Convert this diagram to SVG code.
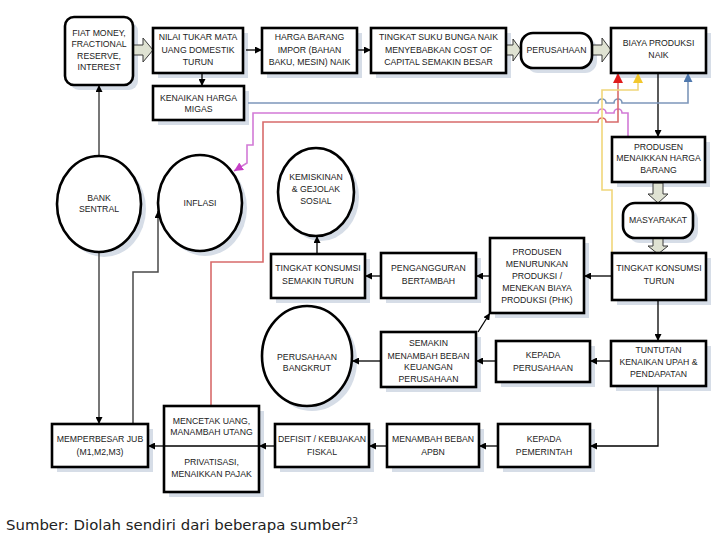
<svg xmlns="http://www.w3.org/2000/svg" width="720" height="540" viewBox="0 0 720 540">
<style>
.bg{fill:#fff}
.sh{fill:#d6dde7}
.box{fill:#fff;stroke:#000;stroke-width:2.6}
.t{font-family:"Liberation Sans",Arial,sans-serif;font-size:8.7px;fill:#222;text-anchor:middle}
.fat{fill:#dfe2d2;stroke:#3a3a3a;stroke-width:1}
.k{fill:none;stroke:#000;stroke-width:1.3}
.g{fill:none;stroke:#4a4a4a;stroke-width:1.5}
.bl{fill:none;stroke:#7d97ba;stroke-width:1.6}
.mg{fill:none;stroke:#d27ad6;stroke-width:1.6}
.rd{fill:none;stroke:#d86b6b;stroke-width:1.6}
.yl{fill:none;stroke:#f0d67a;stroke-width:1.6}
.cap{font-family:"DejaVu Sans",Verdana,sans-serif;font-size:14.9px;fill:#222}
</style>
<defs>
<marker id="ak" viewBox="0 0 10 10" refX="10" refY="5" markerWidth="7" markerHeight="7" markerUnits="userSpaceOnUse" orient="auto"><path d="M0,0 L10,5 L0,10 z" fill="#000"/></marker>
<marker id="abl" viewBox="0 0 10 10" refX="10" refY="5" markerWidth="9" markerHeight="9" markerUnits="userSpaceOnUse" orient="auto"><path d="M0,0 L10,5 L0,10 z" fill="#4f78ad"/></marker>
<marker id="amg" viewBox="0 0 10 10" refX="10" refY="5" markerWidth="9" markerHeight="9" markerUnits="userSpaceOnUse" orient="auto"><path d="M0,0 L10,5 L0,10 z" fill="#c63fc6"/></marker>
<marker id="ard" viewBox="0 0 10 10" refX="10" refY="5" markerWidth="10" markerHeight="10" markerUnits="userSpaceOnUse" orient="auto"><path d="M0,0 L10,5 L0,10 z" fill="#e01b1b"/></marker>
<marker id="ayl" viewBox="0 0 10 10" refX="10" refY="5" markerWidth="10" markerHeight="10" markerUnits="userSpaceOnUse" orient="auto"><path d="M0,0 L10,5 L0,10 z" fill="#f2c72c"/></marker>
</defs>
<rect class="bg" x="0" y="0" width="720" height="540"/>

<g id="shadows">
<rect class="sh" x="70" y="22" width="68" height="68" rx="9"/>
<rect class="sh" x="158" y="33" width="90" height="45"/>
<rect class="sh" x="267" y="33" width="95" height="45"/>
<rect class="sh" x="376" y="33" width="135" height="45"/>
<rect class="sh" x="526" y="38" width="71" height="35" rx="12"/>
<rect class="sh" x="616" y="33" width="95" height="45"/>
<rect class="sh" x="158" y="91" width="91" height="34"/>
<ellipse class="sh" cx="104" cy="209" rx="42" ry="48"/>
<ellipse class="sh" cx="205" cy="208" rx="42" ry="48"/>
<ellipse class="sh" cx="321" cy="197" rx="38" ry="44"/>
<rect class="sh" x="617" y="142" width="93" height="45"/>
<rect class="sh" x="628" y="208" width="70" height="35" rx="12"/>
<rect class="sh" x="617" y="258" width="94" height="47"/>
<rect class="sh" x="495" y="243" width="94" height="75"/>
<rect class="sh" x="386" y="258" width="95" height="45"/>
<rect class="sh" x="276" y="259" width="94" height="44"/>
<ellipse class="sh" cx="312" cy="361" rx="45" ry="50"/>
<rect class="sh" x="386" y="337" width="95" height="55"/>
<rect class="sh" x="501" y="346" width="94" height="41"/>
<rect class="sh" x="616" y="346" width="95" height="45"/>
<rect class="sh" x="57" y="429" width="96" height="43"/>
<rect class="sh" x="169" y="411" width="95" height="86"/>
<rect class="sh" x="280" y="429" width="94" height="43"/>
<rect class="sh" x="392" y="429" width="92" height="43"/>
<rect class="sh" x="503" y="429" width="92" height="43"/>
</g>

<g id="connectors">
<polygon class="fat" points="133,45 143,45 143,38 153,50 143,62 143,55 133,55"/>
<polygon class="fat" points="506,45 513,45 513,39 521,50 513,61 513,55 506,55"/>
<polygon class="fat" points="592,45 602,45 602,38 611,50 602,62 602,55 592,55"/>
<polygon class="fat" points="653,183 663,183 663,194 668,194 658,203 648,194 653,194"/>
<polygon class="fat" points="653,238 663,238 663,246 668,246 658,254 648,246 653,246"/>
<path class="k" d="M246,50 H262" marker-end="url(#ak)"/>
<path class="k" d="M357,50 H371" marker-end="url(#ak)"/>
<path class="k" d="M202,73 V86" marker-end="url(#ak)"/>
<path class="k" d="M658,73 V137" marker-end="url(#ak)"/>
<path class="k" d="M612,276 H584" marker-end="url(#ak)"/>
<path class="k" d="M490,276 H476" marker-end="url(#ak)"/>
<path class="k" d="M381,276 H365" marker-end="url(#ak)"/>
<path class="k" d="M317,254 V236" marker-end="url(#ak)"/>
<path class="k" d="M658,300 V341" marker-end="url(#ak)"/>
<path class="k" d="M611,361 H590" marker-end="url(#ak)"/>
<path class="k" d="M496,361 H476" marker-end="url(#ak)"/>
<path class="k" d="M381,361 H352" marker-end="url(#ak)"/>
<path class="k" d="M478,332 L490,313" marker-end="url(#ak)"/>
<path class="k" d="M658,386 V446 H590" marker-end="url(#ak)"/>
<path class="k" d="M498,446 H479" marker-end="url(#ak)"/>
<path class="k" d="M387,446 H369" marker-end="url(#ak)"/>
<path class="k" d="M275,446 H259" marker-end="url(#ak)"/>
<path class="k" d="M164,446 H148" marker-end="url(#ak)"/>
<path class="g" d="M99,156 V85" marker-end="url(#ak)"/>
<path class="g" d="M99,252 V424" marker-end="url(#ak)"/>
<path class="g" d="M133,424 V272 H158 V211" marker-end="url(#ak)"/>
<path class="bl" d="M248,103 H598 a4,4 0 0 1 8,0 H614 a4,4 0 0 1 8,0 H688 V73" marker-end="url(#abl)"/>
<path class="mg" d="M628,137 V113 H622 a4,4 0 0 0 -8,0 H606 a4,4 0 0 0 -8,0 H253 V145 H247 V163 L234,171" marker-end="url(#amg)"/>
<path class="rd" d="M211,406 V262 H263 V122 H598 a4,4 0 0 1 8,0 H618 V73" marker-end="url(#ard)"/>
<path class="yl" d="M612,254 V190 H602 V90 H638 V73" marker-end="url(#ayl)"/>
</g>

<g id="n-fiat"><rect class="box" x="65" y="17" width="68" height="68" rx="9"/>
<text class="t"><tspan x="99" y="36">FIAT MONEY,</tspan><tspan x="99" y="47">FRACTIONAL</tspan><tspan x="99" y="59">RESERVE,</tspan><tspan x="99" y="70">INTEREST</tspan></text></g>

<g id="n-nilai"><rect class="box" x="153" y="28" width="90" height="45"/>
<text class="t"><tspan x="198" y="40">NILAI TUKAR MATA</tspan><tspan x="198" y="53">UANG DOMESTIK</tspan><tspan x="198" y="65">TURUN</tspan></text></g>

<g id="n-harga"><rect class="box" x="262" y="28" width="95" height="45"/>
<text class="t"><tspan x="309.5" y="40">HARGA BARANG</tspan><tspan x="309.5" y="53">IMPOR (BAHAN</tspan><tspan x="309.5" y="65">BAKU, MESIN) NAIK</tspan></text></g>

<g id="n-suku"><rect class="box" x="371" y="28" width="135" height="45"/>
<text class="t"><tspan x="438.5" y="40">TINGKAT SUKU BUNGA NAIK</tspan><tspan x="438.5" y="53">MENYEBABKAN COST OF</tspan><tspan x="438.5" y="65">CAPITAL SEMAKIN BESAR</tspan></text></g>

<g id="n-perusahaan"><rect class="box" x="521" y="33" width="71" height="35" rx="12"/>
<text class="t"><tspan x="556.5" y="53">PERUSAHAAN</tspan></text></g>

<g id="n-biaya"><rect class="box" x="611" y="28" width="95" height="45"/>
<text class="t"><tspan x="658.5" y="46">BIAYA PRODUKSI</tspan><tspan x="658.5" y="58">NAIK</tspan></text></g>

<g id="n-migas"><rect class="box" x="153" y="86" width="91" height="34"/>
<text class="t"><tspan x="198.5" y="101">KENAIKAN HARGA</tspan><tspan x="198.5" y="112">MIGAS</tspan></text></g>

<g id="n-bank"><ellipse class="box" cx="99" cy="204" rx="42" ry="48"/>
<text class="t"><tspan x="99" y="201">BANK</tspan><tspan x="99" y="212">SENTRAL</tspan></text></g>

<g id="n-inflasi"><ellipse class="box" cx="200" cy="203" rx="42" ry="48"/>
<text class="t"><tspan x="200" y="206">INFLASI</tspan></text></g>

<g id="n-kemiskinan"><ellipse class="box" cx="316" cy="192" rx="38" ry="44"/>
<text class="t"><tspan x="316" y="180">KEMISKINAN</tspan><tspan x="316" y="192">&amp; GEJOLAK</tspan><tspan x="316" y="204">SOSIAL</tspan></text></g>

<g id="n-produsen-naik"><rect class="box" x="612" y="137" width="93" height="45"/>
<text class="t"><tspan x="658.5" y="150">PRODUSEN</tspan><tspan x="658.5" y="161">MENAIKKAN HARGA</tspan><tspan x="658.5" y="173">BARANG</tspan></text></g>

<g id="n-masyarakat"><rect class="box" x="623" y="203" width="70" height="35" rx="12"/>
<text class="t"><tspan x="658" y="223">MASYARAKAT</tspan></text></g>

<g id="n-konsumsi"><rect class="box" x="612" y="253" width="94" height="47"/>
<text class="t"><tspan x="659" y="271">TINGKAT KONSUMSI</tspan><tspan x="659" y="284">TURUN</tspan></text></g>

<g id="n-produsen-turun"><rect class="box" x="490" y="238" width="94" height="75"/>
<text class="t"><tspan x="537" y="255">PRODUSEN</tspan><tspan x="537" y="267">MENURUNKAN</tspan><tspan x="537" y="279">PRODUKSI /</tspan><tspan x="537" y="291">MENEKAN BIAYA</tspan><tspan x="537" y="303">PRODUKSI (PHK)</tspan></text></g>

<g id="n-pengangguran"><rect class="box" x="381" y="253" width="95" height="45"/>
<text class="t"><tspan x="428.5" y="271">PENGANGGURAN</tspan><tspan x="428.5" y="284">BERTAMBAH</tspan></text></g>

<g id="n-konsumsi-semakin"><rect class="box" x="271" y="254" width="94" height="44"/>
<text class="t"><tspan x="318" y="271">TINGKAT KONSUMSI</tspan><tspan x="318" y="284">SEMAKIN TURUN</tspan></text></g>

<g id="n-bangkrut"><ellipse class="box" cx="307" cy="356" rx="45" ry="50"/>
<text class="t"><tspan x="307" y="360">PERUSAHAAN</tspan><tspan x="307" y="371">BANGKRUT</tspan></text></g>

<g id="n-beban-keuangan"><rect class="box" x="381" y="332" width="95" height="55"/>
<text class="t"><tspan x="428.5" y="346">SEMAKIN</tspan><tspan x="428.5" y="359">MENAMBAH BEBAN</tspan><tspan x="428.5" y="370">KEUANGAN</tspan><tspan x="428.5" y="382">PERUSAHAAN</tspan></text></g>

<g id="n-kepada-perusahaan"><rect class="box" x="496" y="341" width="94" height="41"/>
<text class="t"><tspan x="543" y="358">KEPADA</tspan><tspan x="543" y="371">PERUSAHAAN</tspan></text></g>

<g id="n-tuntutan"><rect class="box" x="611" y="341" width="95" height="45"/>
<text class="t"><tspan x="658.5" y="353">TUNTUTAN</tspan><tspan x="658.5" y="365">KENAIKAN UPAH &amp;</tspan><tspan x="658.5" y="377">PENDAPATAN</tspan></text></g>

<g id="n-pemerintah"><rect class="box" x="498" y="424" width="92" height="43"/>
<text class="t"><tspan x="544" y="442">KEPADA</tspan><tspan x="544" y="455">PEMERINTAH</tspan></text></g>

<g id="n-apbn"><rect class="box" x="387" y="424" width="92" height="43"/>
<text class="t"><tspan x="433" y="442">MENAMBAH BEBAN</tspan><tspan x="433" y="455">APBN</tspan></text></g>

<g id="n-defisit"><rect class="box" x="275" y="424" width="94" height="43"/>
<text class="t"><tspan x="322" y="442">DEFISIT / KEBIJAKAN</tspan><tspan x="322" y="455">FISKAL</tspan></text></g>

<g id="n-mencetak"><rect class="box" x="164" y="406" width="95" height="86"/>
<path d="M164,446 H259" stroke="#000" stroke-width="1.3"/>
<text class="t"><tspan x="211.5" y="424">MENCETAK UANG,</tspan><tspan x="211.5" y="435">MANAMBAH UTANG</tspan><tspan x="211.5" y="465">PRIVATISASI,</tspan><tspan x="211.5" y="477">MENAIKKAN PAJAK</tspan></text></g>

<g id="n-jub"><rect class="box" x="52" y="424" width="96" height="43"/>
<text class="t"><tspan x="100" y="442">MEMPERBESAR JUB</tspan><tspan x="100" y="455">(M1,M2,M3)</tspan></text></g>

<text class="cap" x="6" y="530">Sumber: Diolah sendiri dari beberapa sumber<tspan font-size="9" dy="-6">23</tspan></text>
</svg>
